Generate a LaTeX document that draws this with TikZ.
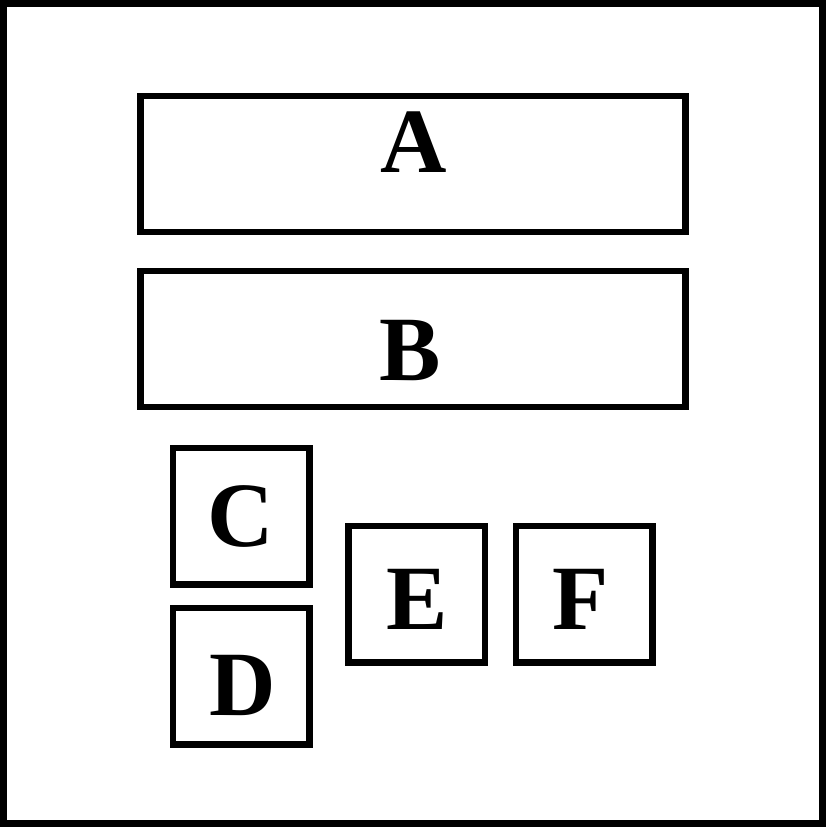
\documentclass[tikz,border=0pt]{standalone}
\usepackage{fontspec}
\setmainfont{Liberation Serif}
\begin{document}
\begin{tikzpicture}[x=1pt,y=-1pt,
	box/.style={draw,line width=6.5pt,inner sep=0pt},
	widebox/.style={box,minimum width=545pt,minimum height=136pt},
	smallbox/.style={box,minimum width=136.5pt,minimum height=136.5pt},
	letter/.style={anchor=base,inner sep=0pt,font=\fontsize{92}{92}\selectfont\bfseries}]
			\useasboundingbox (0,0) rectangle (826,827);
			\draw [line width=6.5pt] (3.5,3.5) rectangle (822.5,823.5);
			% long boxes
			\node [widebox] (A) at (413,163.8) {};
			\node [widebox] (B) at (413,338.8) {};
			% square boxes
			\node [smallbox] (C) at (241,516.3) {};
			\node [smallbox] (D) at (241,676.1) {};
			\node [smallbox] (E) at (416.7,594.3) {};
			\node [smallbox] (F) at (584,594.3) {};
			% letters
			\node [letter] (lA) at (413.7,172.7) {A};
			\node [letter] (lB) at (410.5,380) {B};
			\node [letter] (lC) at (241,546.5) {C};
			\node [letter] (lD) at (242.5,715) {D};
			\node [letter] (lE) at (417,629.3) {E};
			\node [letter] (lF) at (581,629) {F};
			\end{tikzpicture}
\end{document}
